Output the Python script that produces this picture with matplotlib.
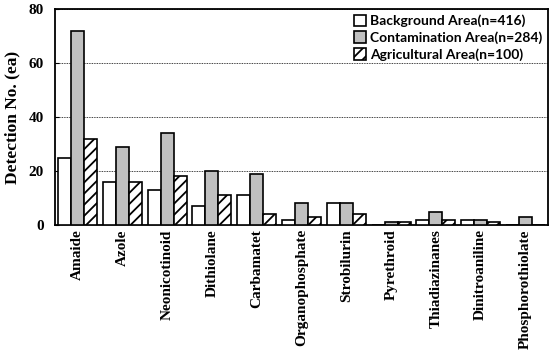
import matplotlib

matplotlib.use("Agg")
import matplotlib.pyplot as plt
import numpy as np

categories = ["Amaide", "Azole", "Neonicotinoid", "Dithiolane", "Carbamatet",
              "Organophosphate", "Strobilurin", "Pyrethroid", "Thiadiazinanes",
              "Dinitroaniline", "Phosphorothiolate"]
background = [25, 16, 13, 7, 11, 2, 8, 0, 2, 2, 0]
contamination = [72, 29, 34, 20, 19, 8, 8, 1, 5, 2, 3]
agricultural = [32, 16, 18, 11, 4, 3, 4, 1, 2, 1, 0]
series_labels = ["Background Area(n=416)", "Contamination Area(n=284)",
                 "Agricultural Area(n=100)"]
y_ticks = [0, 20, 40, 60, 80]

serif = ["Liberation Serif", "DejaVu Serif"]
plt.rcParams["hatch.linewidth"] = 1.3

fig = plt.figure(figsize=(5.5, 3.5), dpi=100)
ax = fig.add_axes([55 / 550, 1 - 225 / 350, 493 / 550, 216 / 350])

x = np.arange(len(categories))
w = 0.29
ax.bar(x - w, background, w, color="white", edgecolor="black", linewidth=1.2,
       label=series_labels[0], zorder=3)
ax.bar(x, contamination, w, color="#c0c0c0", edgecolor="black", linewidth=1.2,
       label=series_labels[1], zorder=3)
ax.bar(x + w, agricultural, w, color="white", edgecolor="black", linewidth=1.2,
       hatch="///", label=series_labels[2], zorder=3)

ax.set_xlim(-0.5, len(categories) - 0.5)
ax.set_ylim(0, 80)
ax.set_yticks(y_ticks)
ax.yaxis.grid(True, linestyle=(0, (1, 1)), color="black", linewidth=0.6)
ax.set_axisbelow(True)

ax.set_xticks(x)
ax.set_xticklabels(categories, rotation=90, family=serif, fontweight="bold",
                   fontsize=11)
for lab in ax.get_yticklabels():
    lab.set_family(serif)
    lab.set_fontweight("bold")
    lab.set_fontsize(11)
ax.tick_params(axis="x", length=0, pad=3)
ax.tick_params(axis="y", direction="in", length=3, pad=8)
ax.set_ylabel("Detection No. (ea)", family=serif, fontweight="bold", fontsize=12.5,
              labelpad=6)
for s in ax.spines.values():
    s.set_linewidth(1.3)

ax.legend(loc="upper right", frameon=False, prop={"family": "Lato",
          "weight": "bold", "size": 10}, handlelength=0.9, handleheight=0.9,
          handletextpad=0.3, labelspacing=0.3, borderaxespad=0.0)

plt.savefig("out.png", dpi=100)
